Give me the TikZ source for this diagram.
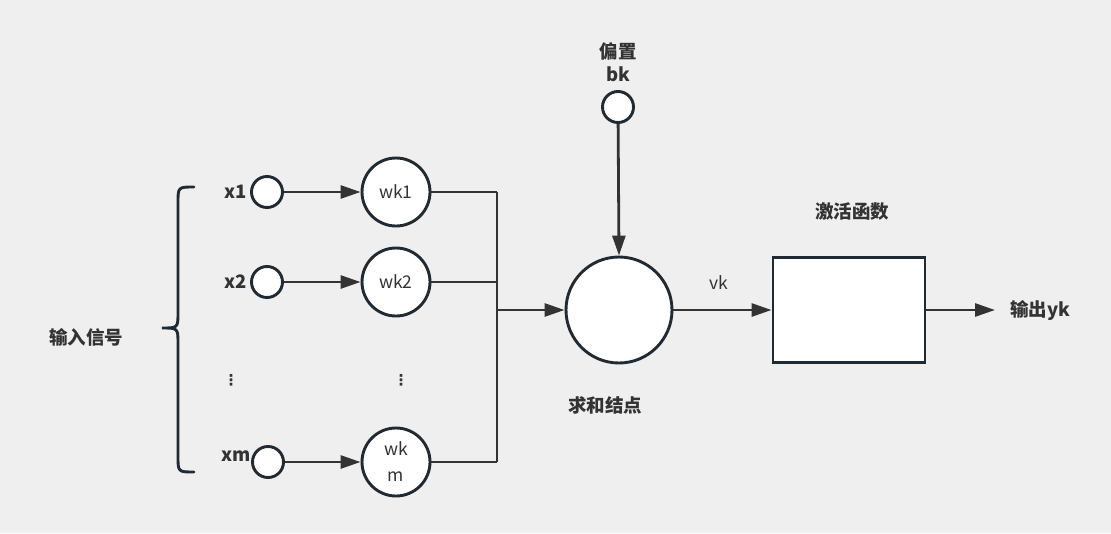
\documentclass[tikz,border=0pt]{standalone}
\usepackage{fontspec}
\setmainfont{Noto Sans CJK SC}
\newfontfamily\dejavu{DejaVu Sans}
\usetikzlibrary{arrows.meta}
\definecolor{bg}{HTML}{EFEFEF}
\definecolor{ink}{HTML}{333333}
\definecolor{edge}{HTML}{1F2A33}
\tikzset{
  circ/.style={circle,draw=edge,fill=white,line width=2.9pt,inner sep=0pt,minimum size=#1},
  lbl/.style={text=ink,font=\fontsize{18.5}{20}\selectfont\bfseries,inner sep=0pt},
  plain/.style={text=ink,font=\fontsize{17.5}{20}\selectfont,inner sep=0pt,align=center},
  conn/.style={draw=ink,line width=2.8pt},
  arr/.style={conn,-{Triangle[length=20pt,width=13pt]}},
}
\begin{document}
\begin{tikzpicture}[x=1pt,y=-1pt]
\fill[bg] (0,0) rectangle (1111,533);
\useasboundingbox (0,0) rectangle (1111,533);

% brace
\draw[edge,line width=2.9pt,line cap=round]
 (194,187) .. controls (178,187) .. (178,203) -- (178,312)
 .. controls (178,328) .. (162,328) .. controls (178,328) .. (178,344)
 -- (178,456) .. controls (178,472) .. (194,472);
\node[lbl] (inlbl) at (86,337) {输入信号};

% inputs
\node[circ=31pt] (x1) at (267,192) {};
\node[circ=31pt] (x2) at (267,282) {};
\node[circ=31pt] (xm) at (268,462) {};
\node[lbl] (x1l) at (236,192) {x1};
\node[lbl] (x2l) at (236,282) {x2};
\node[lbl] (xml) at (236,456) {xm};

% weights
\node[circ=68pt,plain] (w1) at (396,192) {wk1};
\node[circ=68pt,plain] (w2) at (396,282) {wk2};
\node[circ=68pt,plain,font=\fontsize{17.5}{26}\selectfont] (wm) at (396,462) {wk\\m};

\node[text=ink,inner sep=0pt,font=\dejavu\fontsize{15}{15}\selectfont\bfseries] (d1) at (231,380) {⋮};
\node[text=ink,inner sep=0pt,font=\dejavu\fontsize{15}{15}\selectfont\bfseries] (d2) at (401,380) {⋮};

\draw[arr] (x1) -- (w1);
\draw[arr] (x2) -- (w2);
\draw[arr] (xm) -- (wm);

% bus
\coordinate (b1) at (497,192);
\coordinate (b2) at (497,282);
\coordinate (bm) at (497,462);
\coordinate (bj) at (497,310);
\draw[conn] (w1.east) -- (b1);
\draw[conn] (w2.east) -- (b2);
\draw[conn] (wm.east) -- (bm);
\draw[conn] (b1) -- (bm);

% sum
\node[circ=106pt] (sum) at (619,310) {};
\node[lbl] (suml) at (605,405) {求和结点};
\draw[arr] (bj) -- (sum.west);

% bias
\node[circ=31pt] (bias) at (618,107) {};
\node[lbl,align=center,font=\fontsize{18.5}{23}\selectfont\bfseries] (biasl) at (618,62) {偏置\\bk};
\draw[arr] (bias) -- (sum.north);

% activation
\node[draw=edge,fill=white,line width=2.9pt,minimum width=152pt,minimum height=105pt,inner sep=0pt] (act) at (849,310) {};
\node[lbl] (actl) at (852,212) {激活函数};
\node[plain] (vk) at (719,283) {vk};
\draw[arr] (sum.east) -- (act.west);

\coordinate (out) at (995,310);
\draw[arr] (act.east) -- (out);
\node[lbl,anchor=west] (outl) at (1010,311) {输出yk};
\end{tikzpicture}
\end{document}
